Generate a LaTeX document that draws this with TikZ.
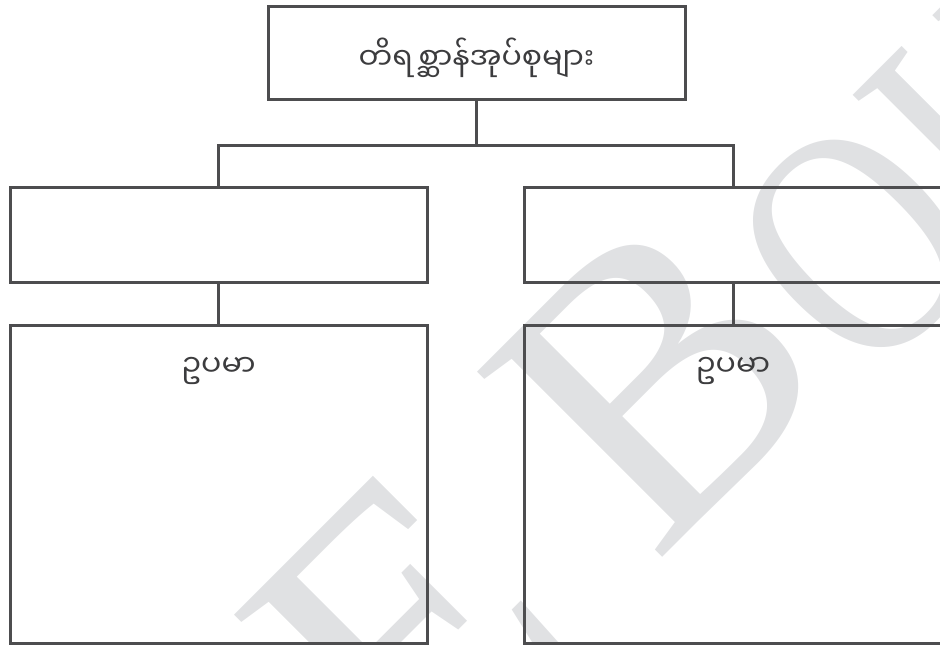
\documentclass[tikz,border=0pt]{standalone}
\usepackage{fontspec}
\usepackage{tikz}
\usetikzlibrary{positioning,backgrounds}
\newfontfamily\mmfont[Script=Myanmar]{Noto Sans Myanmar UI}
\newfontfamily\wmfont{Liberation Serif}
\definecolor{cLine}{HTML}{4D4D4F}
\definecolor{cText}{HTML}{3C3C3E}
\definecolor{cMark}{HTML}{E0E1E3}
\tikzset{
  box/.style={draw=cLine, line width=3pt, rectangle, inner sep=0pt,
              text=cText, align=center, minimum width=417pt},
  headbox/.style={box, minimum height=93pt},
  catbox/.style={box, minimum height=95.5pt},
  exbox/.style={box, minimum height=318pt},
  mmtext/.style={font=\mmfont\fontsize{30pt}{36pt}\selectfont, text=cText, inner sep=0pt},
  link/.style={draw=cLine, line width=3pt},
  wmark/.style={font=\wmfont\fontsize{400pt}{400pt}\selectfont, text=cMark,
                inner sep=0pt, rotate=45, anchor=base west},
  wmarksmall/.style={wmark, font=\wmfont\fontsize{330pt}{330pt}\selectfont, xscale=0.8},
}
\begin{document}
\begin{tikzpicture}[x=1pt, y=-1pt]
  \useasboundingbox (0,0) rectangle (940,645);

  % watermark
  \begin{scope}[on background layer]
    \clip (0,0) rectangle (940,645);
    \node[wmark] (wmEB) at (411,809) {E B};
    \node[wmarksmall] (wmOK) at (866,388) {OK};
  \end{scope}

  % top
  \node[headbox] (groups) at (476.5,53) {};
  \node[mmtext] (groupstxt) at (476.5,58) {တိရစ္ဆာန်အုပ်စုများ};

  % categories
  \node[catbox] (catL) at (218.5,234.75) {};
  \node[catbox] (catR) at (733,234.75) {};

  % examples
  \node[exbox, below=39.5pt of catL] (exL) {};
  \node[exbox, below=39.5pt of catR] (exR) {};
  \node[mmtext, below=34pt of exL.north] (exLtxt) {ဥပမာ};
  \node[mmtext, below=34pt of exR.north] (exRtxt) {ဥပမာ};

  \coordinate (split) at (476.5,145);
  \draw[link] (groups.south) -- (split);
  \draw[link] (catL.north) |- (split) -| (catR.north);
  \draw[link] (catL.south) -- (exL.north);
  \draw[link] (catR.south) -- (exR.north);
\end{tikzpicture}
\end{document}
